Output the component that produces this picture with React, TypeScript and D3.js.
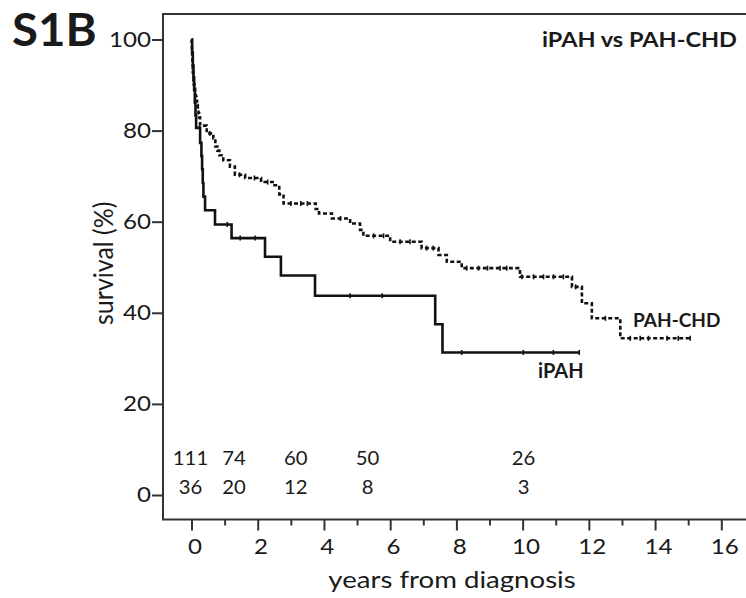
import { useEffect, useRef } from 'react';
import * as d3 from 'd3';

// Kaplan-Meier steps (years, survival %)
const ipahTimes = [0, 0.02, 0.04, 0.06, 0.08, 0.1, 0.12, 0.14, 0.26, 0.3, 0.32, 0.34, 0.36, 0.41, 0.71, 1.21, 2.22, 2.7, 3.73, 7.36, 7.58, 11.71];
const ipahSurv = [100, 97.2, 94.4, 91.7, 88.9, 86.1, 83.3, 80.6, 77.3, 74.4, 71.5, 68.5, 65.5, 62.5, 59.4, 56.4, 52.3, 48.2, 43.75, 37.5, 31.3, 31.3];
const ipahCensor = [1.08, 1.47, 1.92, 4.79, 5.76, 8.16, 10.02, 10.93, 11.71];

const chdTimes = [0, 0.005, 0.01, 0.015, 0.02, 0.025, 0.03, 0.035, 0.04, 0.05, 0.06, 0.07, 0.09, 0.11, 0.13, 0.15, 0.17, 0.19, 0.21, 0.23, 0.26, 0.46, 0.66, 0.72, 0.78, 0.84, 0.96, 1.16, 1.31, 1.62, 2.1, 2.45, 2.65, 2.78, 3.75, 3.85, 4.24, 4.79, 5.09, 5.19, 6.0, 6.95, 7.46, 7.71, 8.16, 9.92, 11.49, 11.79, 12.09, 12.95, 15.06];
const chdSurv = [100, 99.1, 98.2, 97.3, 96.4, 95.5, 94.6, 93.7, 92.8, 91.9, 91.0, 90.1, 89.2, 88.3, 87.4, 86.5, 85.6, 84.7, 83.8, 82.9, 81.1, 79.4, 78.3, 76.5, 75.6, 74.6, 73.5, 72.1, 70.3, 69.6, 68.7, 68.0, 66.0, 64.0, 62.8, 61.8, 60.7, 59.6, 58.2, 56.9, 55.6, 54.2, 52.7, 51.2, 49.8, 47.9, 45.7, 42.1, 38.8, 34.4, 34.4];
const chdCensor = [0.55, 1.45, 1.9, 2.3, 3.0, 3.3, 3.5, 4.5, 5.5, 5.8, 6.3, 6.6, 7.1, 7.3, 8.31, 8.67, 8.94, 9.32, 9.52, 9.98, 10.33, 10.63, 10.93, 11.23, 11.6, 12.5, 13.25, 13.55, 13.8, 14.36, 14.7, 15.06];

// numbers at risk
const riskYears = [0, 1, 3, 5, 10];
const riskCHD = [111, 74, 60, 50, 26];
const riskIPAH = [36, 20, 12, 8, 3];

const xTicks = [0, 2, 4, 6, 8, 10, 12, 14, 16];
const xMinorTicks = [1, 3, 5, 7, 9, 11, 13, 15];
const yTicks = [0, 20, 40, 60, 80, 100];

const FONT = 'Lato, "Open Sans", sans-serif';
const INK = '#1a1a1a';
const SX = 1.15; // the original figure's lettering is a bit wide

export default function App() {
  const svgRef = useRef<SVGSVGElement | null>(null);

  useEffect(() => {
    if (!svgRef.current) return;
    const svg = d3.select(svgRef.current);
    svg.selectAll('*').remove();

    const W = 746;
    const frameLeft = 163;
    const frameTop = 14;
    const frameBottom = 519.5;

    const x = d3.scaleLinear().domain([0, 16]).range([191.5, 721.3]);
    const y = d3.scaleLinear().domain([0, 100]).range([495, 39.5]);

    const label = (
      tx: number, ty: number, str: string,
      size: number, opts: { anchor?: string; bold?: boolean; sx?: number; rotate?: number } = {}
    ) =>
      svg.append('text')
        .attr('transform', `translate(${tx},${ty}) scale(${opts.sx ?? 1},1)${opts.rotate ? ` rotate(${opts.rotate})` : ''}`)
        .attr('text-anchor', opts.anchor ?? 'start')
        .attr('fill', INK)
        .style('font-family', FONT)
        .style('font-weight', opts.bold ? 700 : 400)
        .style('font-size', `${size}px`)
        .text(str);

    // frame
    svg.append('path')
      .attr('d', `M${W},${frameTop}H${frameLeft}V${frameBottom}H${W}`)
      .attr('fill', 'none')
      .attr('stroke', '#333')
      .attr('stroke-width', 2);

    // y axis
    const gy = svg.append('g')
      .attr('transform', `translate(${frameLeft},0)`)
      .call(d3.axisLeft(y).tickValues(yTicks).tickSize(11).tickPadding(1).tickFormat(d3.format('d')));
    gy.select('.domain').remove();
    gy.selectAll('.tick line').attr('stroke', '#333').attr('stroke-width', 2);
    gy.selectAll('.tick text')
      .attr('x', -12 / SX)
      .attr('transform', `scale(${SX},1)`)
      .attr('fill', INK)
      .style('font-family', FONT)
      .style('font-size', '21px');

    // x axis
    const gx = svg.append('g')
      .attr('transform', `translate(0,${frameBottom})`)
      .call(d3.axisBottom(x).tickValues(xTicks).tickSize(11).tickPadding(9).tickFormat(d3.format('d')));
    gx.select('.domain').remove();
    gx.selectAll('.tick line').attr('stroke', '#333').attr('stroke-width', 2);
    gx.selectAll('.tick text')
      .attr('dx', 2.5)
      .attr('transform', `scale(${SX},1)`)
      .attr('fill', INK)
      .style('font-family', FONT)
      .style('font-size', '21px');

    const gxm = svg.append('g')
      .attr('transform', `translate(0,${frameBottom})`)
      .call(d3.axisBottom(x).tickValues(xMinorTicks).tickSize(6).tickFormat(() => ''));
    gxm.select('.domain').remove();
    gxm.selectAll('.tick line').attr('stroke', '#333').attr('stroke-width', 2);

    // titles
    label(452, 588, 'years from diagnosis', 24, { anchor: 'middle', sx: SX });
    label(113, (y(0) + y(100)) / 2 - 4, 'survival (%)', 25, { anchor: 'middle', rotate: -90, sx: 1.1 });
    label(12, 46, 'S1B', 46, { bold: true, sx: 1.03 });
    label(737, 47, 'iPAH vs PAH-CHD', 21, { anchor: 'end', bold: true, sx: 1.12 });

    // curves
    const line = d3.line<[number, number]>()
      .x((d) => x(d[0]))
      .y((d) => y(d[1]))
      .curve(d3.curveStepAfter);

    const series = [
      { times: chdTimes, surv: chdSurv, censor: chdCensor, dash: '4,2.5' },
      { times: ipahTimes, surv: ipahSurv, censor: ipahCensor, dash: null },
    ];

    series.forEach((s) => {
      const pts = s.times.map((t, i) => [t, s.surv[i]] as [number, number]);
      svg.append('path')
        .datum(pts)
        .attr('fill', 'none')
        .attr('stroke', '#111')
        .attr('stroke-width', 2.6)
        .attr('stroke-dasharray', s.dash)
        .attr('d', line);

      const survAt = (t: number) => {
        const i = d3.bisectRight(s.times, t) - 1;
        return s.surv[Math.max(0, i)];
      };
      svg.append('g')
        .selectAll('line')
        .data(s.censor)
        .enter()
        .append('line')
        .attr('x1', (t) => x(t))
        .attr('x2', (t) => x(t))
        .attr('y1', (t) => y(survAt(t)) - 2.5)
        .attr('y2', (t) => y(survAt(t)) + 2.5)
        .attr('stroke', '#111')
        .attr('stroke-width', 1.6);
    });

    // curve labels
    label(633, 327, 'PAH-CHD', 19, { bold: true });
    label(538, 378, 'iPAH', 20, { bold: true });

    // numbers at risk
    const riskDx = [-1, 9.5, 5, 10.5, 1];
    [
      { vals: riskCHD, yPos: 465 },
      { vals: riskIPAH, yPos: 493.5 },
    ].forEach((row) => {
      row.vals.forEach((v, i) => {
        label(x(riskYears[i]) + riskDx[i], row.yPos, String(v), 19, { anchor: 'middle', sx: 1.07 });
      });
    });
  }, []);

  return (
    <svg
      ref={svgRef}
      width={746}
      height={598}
      style={{ position: 'absolute', left: 0, top: 0, background: '#fff' }}
    />
  );
}
